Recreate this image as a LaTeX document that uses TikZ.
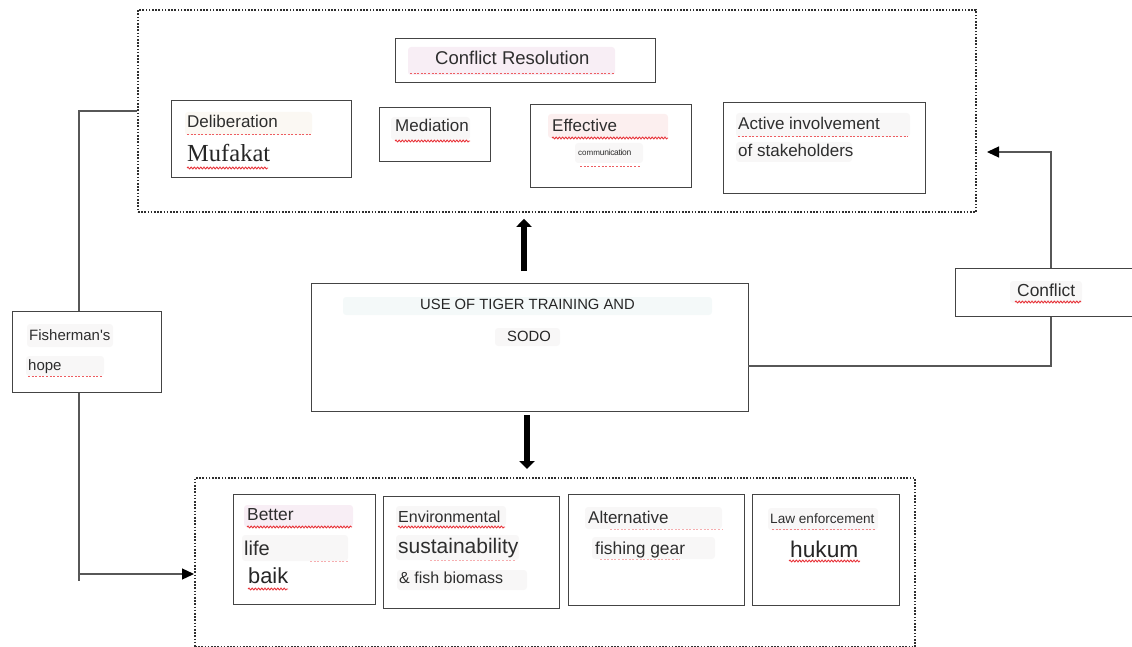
\documentclass[tikz,border=0pt]{standalone}
\usepackage{fontspec}
\setmainfont{Liberation Sans}[Ligatures=TeXOff]
\newfontfamily\serifx{Liberation Serif}
\usetikzlibrary{arrows.meta,decorations.pathmorphing,calc}
\definecolor{edge}{HTML}{444444}
\definecolor{ink}{HTML}{2E2E2E}
\definecolor{wavyred}{HTML}{E8343A}
\definecolor{hlpink}{HTML}{F8EEF5}
\definecolor{hlrose}{HTML}{FCEFEF}
\definecolor{hlgray}{HTML}{F8F7F7}
\definecolor{hlcream}{HTML}{FBF8F3}
\definecolor{hlcyan}{HTML}{F4F9F9}
\newcommand\fsz[1]{\fontsize{#1}{#1}\selectfont}
\tikzset{
  box/.style={draw=edge, line width=1.3pt, rectangle, inner sep=0pt, anchor=north west},
  dotbox/.style={draw=ink, line width=1.8pt, dash pattern=on 1.6pt off 1.6pt, rectangle, inner sep=0pt, anchor=north west},
  txt/.style={anchor=base west, inner sep=0pt, text=ink},
  conn/.style={draw=edge!90, line width=1.3pt},
  thinarrow/.style={conn, -{Triangle[length=12pt,width=11pt,color=black]}},
  bigarrow/.style={draw=black, line width=5.5pt, -{Triangle[length=8pt,width=15pt]}},
  hlb/.style={rounded corners=3pt},
  wavy/.style={draw=wavyred, line width=0.9pt, decorate, decoration={snake, amplitude=0.9pt, segment length=3.2pt}},
  dashu/.style={draw=wavyred!80, line width=0.9pt, dash pattern=on 2pt off 1.6pt},
}
\begin{document}
\begin{tikzpicture}[x=1pt,y=-1pt]
\useasboundingbox (0,0) rectangle (1132,647);
\clip (0,0) rectangle (1132,647);
% containers
\node[dotbox, minimum width=838pt, minimum height=202pt] (top) at (137,9) {};
\node[dotbox, minimum width=720pt, minimum height=169pt] (bot) at (194,477) {};
% highlights
\fill[hlpink, hlb] (408,47) rectangle (615,75);
\fill[hlcream, hlb] (185,112) rectangle (312,135);
\fill[hlgray, hlb] (391,117) rectangle (470,140);
\fill[hlrose, hlb] (548,114) rectangle (668,138);
\fill[hlgray, hlb] (575,143) rectangle (643,163);
\fill[hlgray, hlb] (736,113) rectangle (910,137);
\fill[hlgray, hlb] (736,142) rectangle (852,162);
\fill[hlcyan, hlb] (343,297) rectangle (712,315);
\fill[hlgray, hlb] (495,328) rectangle (560,346);
\fill[hlgray, hlb] (27,324) rectangle (113,347);
\fill[hlgray, hlb] (26,356) rectangle (104,376);
\fill[hlgray, hlb] (1010,281) rectangle (1082,303);
\fill[hlpink, hlb] (244,505) rectangle (353,527);
\fill[hlgray, hlb] (242,535) rectangle (348,561);
\fill[hlgray, hlb] (396,506) rectangle (506,526);
\fill[hlgray, hlb] (396,535) rectangle (519,560);
\fill[hlgray, hlb] (397,570) rectangle (527,590);
\fill[hlgray, hlb] (585,507) rectangle (722,529);
\fill[hlgray, hlb] (592,537) rectangle (715,559);
\fill[hlgray, hlb] (768,508) rectangle (878,530);
% boxes
\node[box, minimum width=260pt, minimum height=44pt] (cr) at (395,38) {};
\node[box, minimum width=180pt, minimum height=77pt] (delib) at (171,100) {};
\node[box, minimum width=111pt, minimum height=54pt] (med) at (379,107) {};
\node[box, minimum width=161pt, minimum height=83pt] (eff) at (530,104) {};
\node[box, minimum width=202pt, minimum height=91pt] (act) at (723,102) {};
\node[box, minimum width=437pt, minimum height=128pt] (mid) at (311,283) {};
\node[box, minimum width=142pt, minimum height=110pt] (better) at (233,494) {};
\node[box, minimum width=176pt, minimum height=112pt] (env) at (383,496) {};
\node[box, minimum width=176pt, minimum height=111pt] (alt) at (568,494) {};
\node[box, minimum width=147pt, minimum height=111pt] (law) at (752,494) {};
\node[box, minimum width=149pt, minimum height=81pt] (fish) at (12,311) {};
\node[box, minimum width=200pt, minimum height=48pt] (conf) at (955,268) {};
% texts
\node[txt, font=\fsz{18.5}] (tcr) at (435,65) {Conflict Resolution};
\node[txt, font=\fsz{17}] (tdel) at (187,128) {Deliberation};
\node[txt, font=\serifx\fsz{24.5}, text=black!85] (tmuf) at (187,162) {Mufakat};
\node[txt, font=\fsz{17}] (tmed) at (395,132) {Mediation};
\node[txt, font=\fsz{17}] (teff) at (552,132) {Effective};
\node[txt] (tcom) at (578,156) {{\fsz{8}comm}{\fsz{8.5}\addfontfeature{LetterSpace=-4}unication}};
\node[txt, font=\fsz{17}] (tact1) at (738,130) {Active involvement};
\node[txt, font=\fsz{17}] (tact2) at (738,157) {of stakeholders};
\node[txt, font=\fsz{14.8}, text=black!85] (tuse) at (420,309) {USE OF TIGER TRAINING AND};
\node[txt, font=\fsz{14.8}, text=black!85] (tsodo) at (507,341) {SODO};
\node[txt, font=\fsz{15}] (tfish1) at (29,340) {Fisherman's};
\node[txt, font=\fsz{15}] (tfish2) at (28,370) {hope};
\node[txt, font=\fsz{17.4}] (tconf) at (1017,296) {Conflict};
\node[txt, font=\fsz{17.4}] (tbet1) at (247,520) {Better};
\node[txt, font=\fsz{20}] (tbet2) at (244,555) {life};
\node[txt, font=\fsz{21.8}, text=black!85] (tbet3) at (248,583) {baik};
\node[txt, font=\fsz{16}] (tenv1) at (398,522) {Environmental};
\node[txt, font=\fsz{21}] (tenv2) at (398,553) {sustainability};
\node[txt, font=\fsz{16}] (tenv3) at (399,583) {\& fish biomass};
\node[txt, font=\fsz{17}] (talt1) at (588,523) {Alternative};
\node[txt, font=\fsz{17.4}] (talt2) at (595,554) {fishing gear};
\node[txt, font=\fsz{13.6}] (tlaw1) at (770,523) {Law enforcement};
\node[txt, font=\fsz{22.7}, text=black!85] (tlaw2) at (790,557) {hukum};
% spell-check underlines
\draw[dashu] (410,73) -- (615,73);
\draw[dashu] (187,134) -- (312,134);
\draw[wavy] (187,168) -- (268,168);
\draw[wavy] (395,141) -- (470,141);
\draw[wavy] (552,138) -- (668,138);
\draw[dashu] (580,166) -- (640,166);
\draw[dashu] (738,136) -- (908,136);
\draw[dashu] (28,376) -- (103,376);
\draw[wavy] (1015,302) -- (1081,302);
\draw[wavy] (247,527) -- (352,527);
\draw[dashu, draw=wavyred!40] (310,561) -- (348,561);
\draw[wavy] (248,589) -- (288,589);
\draw[wavy] (398,527) -- (505,527);
\draw[dashu, draw=wavyred!40] (430,560) -- (515,560);
\draw[dashu, draw=wavyred!40] (610,529) -- (722,529);
\draw[dashu, draw=wavyred!40] (600,559) -- (680,559);
\draw[dashu, draw=wavyred!60] (772,529) -- (876,529);
\draw[wavy] (789,561) -- (860,561);
% connectors
\coordinate (upx) at (524,0);
\coordinate (dnx) at (527,0);
\draw[bigarrow, shorten <=12pt, shorten >=6pt] (mid.north -| upx) -- (top.south -| upx);
\draw[bigarrow, shorten <=3pt, shorten >=8pt] (mid.south -| dnx) -- (bot.north -| dnx);
\coordinate (lx) at (79,0);
\coordinate (lend) at (79,581);
\coordinate (lbr) at (79,574);
\coordinate (bin) at (194,574);
\draw[conn] (top.west) -| (fish.north -| lx);
\draw[conn] (fish.south -| lx) -- (lend);
\draw[thinarrow] (lbr) -- (bin);
\coordinate (rx) at (1051,0);
\coordinate (mout) at (748,366);
\coordinate (atip) at (987,152);
\draw[conn] (mout) -| (conf.south -| rx);
\draw[thinarrow] (conf.north -| rx) |- (atip);
\end{tikzpicture}
\end{document}
